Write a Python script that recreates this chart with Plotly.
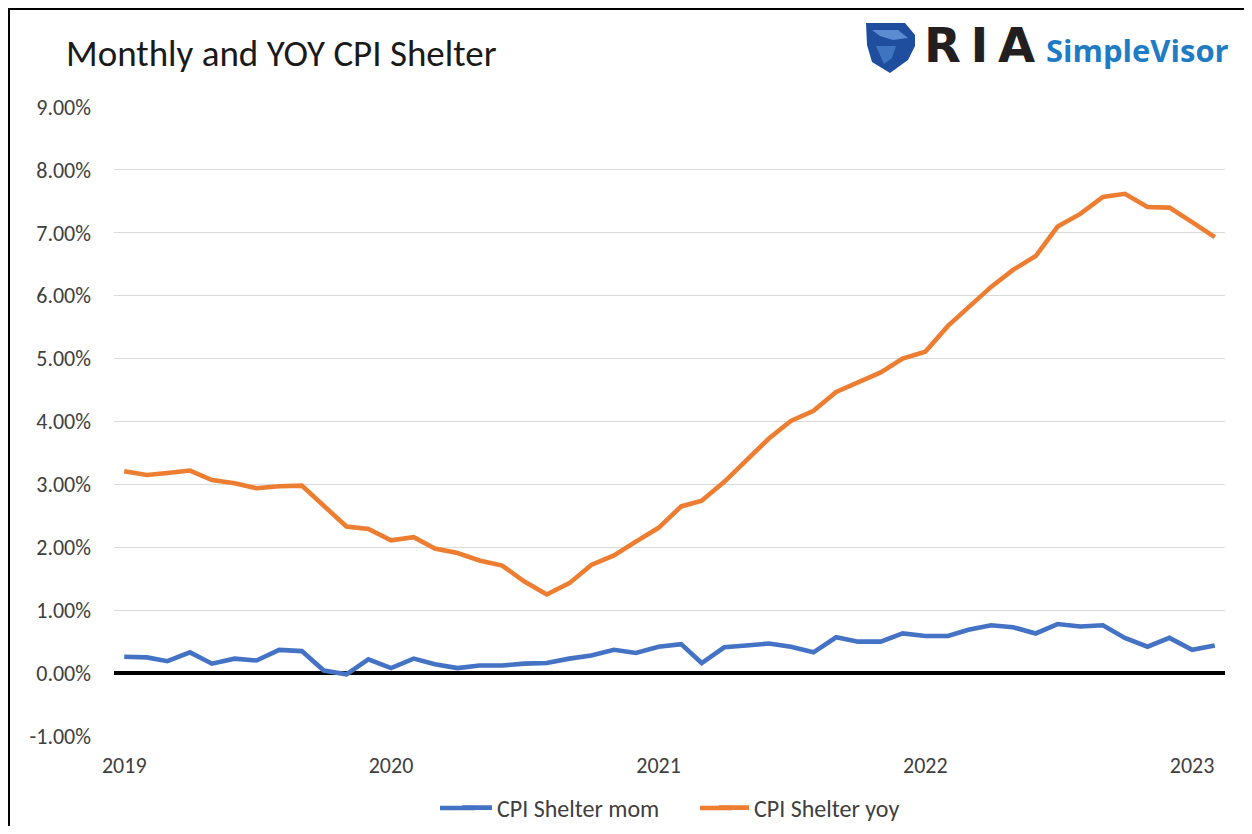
import pandas as pd
import plotly.graph_objects as go

# ---- data ----
months = pd.date_range("2019-01-01", periods=50, freq="MS").strftime("%Y-%m-%d").tolist()

cpi_shelter_mom = [
    0.26, 0.25, 0.19, 0.33, 0.15, 0.23, 0.20, 0.37, 0.35, 0.04, -0.02, 0.22,
    0.08, 0.23, 0.14, 0.08, 0.12, 0.12, 0.15, 0.16, 0.23, 0.28, 0.37, 0.32,
    0.42, 0.46, 0.16, 0.41, 0.44, 0.47, 0.42, 0.33, 0.57, 0.50, 0.50, 0.63,
    0.59, 0.59, 0.69, 0.76, 0.73, 0.63, 0.78, 0.74, 0.76, 0.56, 0.42, 0.56,
    0.37, 0.44,
]
cpi_shelter_yoy = [
    3.21, 3.15, 3.18, 3.22, 3.07, 3.02, 2.94, 2.97, 2.98, 2.65, 2.33, 2.29,
    2.11, 2.16, 1.98, 1.91, 1.79, 1.71, 1.46, 1.25, 1.43, 1.72, 1.87, 2.09,
    2.31, 2.65, 2.74, 3.04, 3.38, 3.73, 4.01, 4.17, 4.47, 4.62, 4.78, 5.00,
    5.11, 5.52, 5.81, 6.14, 6.41, 6.63, 7.10, 7.30, 7.57, 7.62, 7.41, 7.40,
    7.17, 6.93,
]
y_tickvals = [-1, 0, 1, 2, 3, 4, 5, 6, 7, 8, 9]
y_ticktext = [f"{v:.2f}%" for v in y_tickvals]

series_names = ["CPI Shelter mom", "CPI Shelter yoy"]
series_colors = ["#4472C4", "#ED7D31"]

# ---- layout geometry (pixels); page body has an 8px margin ----
OFF = 8
W, H = 1236, 818
ML, MT = 114 - OFF, 107 - OFF
PR, PB = 1225 - OFF, 736 - OFF
MR, MB = W - PR, H - PB
PW, PH = PR - ML, PB - MT


def px(x):
    """reference-screen x pixel -> paper fraction"""
    return (x - OFF - ML) / PW


def py(y):
    """reference-screen y pixel -> paper fraction"""
    return (PB - (y - OFF)) / PH


FONT = "Calibri, Carlito, Lato, 'Open Sans', sans-serif"
LINE_W = 4.6

fig = go.Figure()
for name, vals, col in zip(series_names, [cpi_shelter_mom, cpi_shelter_yoy], series_colors):
    fig.add_trace(go.Scatter(
        x=months, y=vals, mode="lines", name=name,
        line=dict(color=col, width=LINE_W),
    ))

fig.update_layout(
    width=W, height=H,
    margin=dict(l=ML, r=MR, t=MT, b=MB, autoexpand=False),
    paper_bgcolor="white", plot_bgcolor="white",
    font=dict(family=FONT, color="#404040", size=22),
    showlegend=True,
    legend=dict(
        orientation="h", x=px(714), xanchor="center", y=py(808), yanchor="middle",
        font=dict(size=24, color="#404040"), tracegroupgap=0,
        entrywidth=212, bgcolor="rgba(0,0,0,0)",
    ),
    xaxis=dict(
        type="date",
        range=["2018-12-18", "2023-02-15"],
        tick0="2019-01-01", dtick="M12", tickformat="%Y",
        showgrid=False, zeroline=False, showline=False, ticks="",
        ticklabelstandoff=14,
        tickfont=dict(size=22, color="#404040"),
    ),
    yaxis=dict(
        range=[-1, 9],
        tickvals=y_tickvals, ticktext=y_ticktext,
        showgrid=True, gridcolor="#D9D9D9", gridwidth=1.3,
        zeroline=True, zerolinecolor="#000000", zerolinewidth=3.5,
        showline=False, ticks="", ticklabelstandoff=22,
        tickfont=dict(size=22, color="#404040"),
    ),
)

# longer legend swatches (Excel-style), extending the plotly legend samples to the left
for (x0, x1), col in zip([(440, 475), (700, 732)], series_colors):
    fig.add_shape(type="line", xref="paper", yref="paper",
                  x0=px(x0), x1=px(x1), y0=py(808), y1=py(808),
                  line=dict(color=col, width=LINE_W))

# title
fig.add_annotation(
    text="Monthly and YOY CPI Shelter", xref="paper", yref="paper",
    x=px(64), y=py(53), xanchor="left", yanchor="middle", showarrow=False,
    font=dict(family=FONT, size=37, color="#1a1a1a"),
)

# logo (text approximation)
fig.add_annotation(
    text="<b>R\u2009I\u2009A</b>", xref="paper", yref="paper",
    x=px(922), y=py(45), xanchor="left", yanchor="middle", showarrow=False,
    font=dict(family="'DejaVu Sans', 'Open Sans', sans-serif", size=48, color="#231f20"),
)
fig.add_annotation(
    text="<b>SimpleVisor</b>", xref="paper", yref="paper",
    x=px(1044), y=py(50), xanchor="left", yanchor="middle", showarrow=False,
    font=dict(family="'Open Sans', Lato, sans-serif", size=31, color="#1E7BC4"),
)


def pth(points):
    return "M " + " L ".join(f"{px(a):.5f},{py(b):.5f}" for a, b in points) + " Z"


# shield / eagle icon approximation
fig.add_shape(type="path", xref="paper", yref="paper",
              path=pth([(866, 23), (905, 23), (915, 35), (915, 46), (908, 60), (890, 73), (872, 62), (867, 45)]),
              fillcolor="#1F4E9E", line=dict(width=0))
fig.add_shape(type="path", xref="paper", yref="paper",
              path=pth([(872, 30), (898, 30), (908, 38), (893, 40), (880, 36)]),
              fillcolor="#5B8BD0", line=dict(width=0))
fig.add_shape(type="path", xref="paper", yref="paper",
              path=pth([(876, 46), (896, 46), (892, 58), (884, 64)]),
              fillcolor="#3E74C0", line=dict(width=0))

# frame lines (top and left edge of the original chart box)
fig.add_shape(type="line", xref="paper", yref="paper",
              x0=px(8), x1=px(1260), y0=py(9), y1=py(9),
              line=dict(color="#000000", width=2))
fig.add_shape(type="line", xref="paper", yref="paper",
              x0=px(9), x1=px(9), y0=py(9), y1=py(840),
              line=dict(color="#000000", width=2))

fig.write_html("out.html")
